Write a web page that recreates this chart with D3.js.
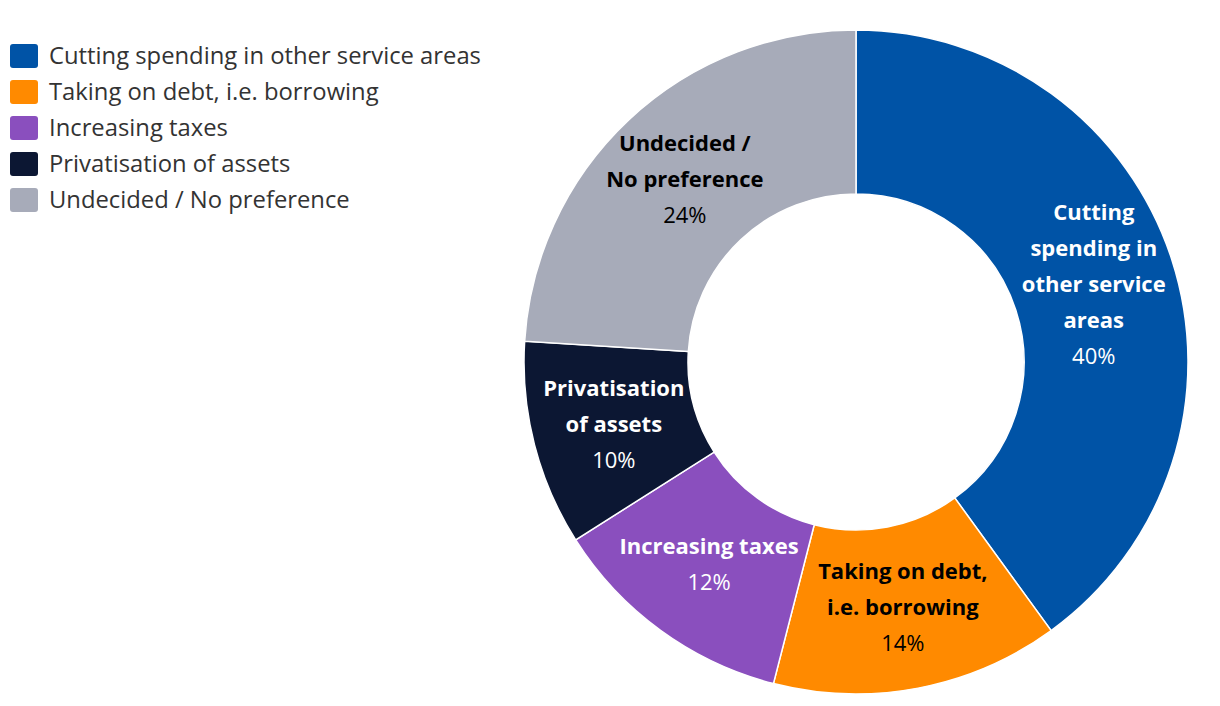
<!DOCTYPE html>
<html><head><meta charset="utf-8">
<script src="https://cdn.jsdelivr.net/npm/d3@7"></script>
<style>body{margin:0;background:#fff;} svg{display:block;}</style>
</head><body>
<svg id="chart" width="1220" height="706"></svg>
<script>
const categories = ["Cutting spending in other service areas","Taking on debt, i.e. borrowing","Increasing taxes","Privatisation of assets","Undecided / No preference"];
const values = [40, 14, 12, 10, 24];
const colors = ["#0053a6","#ff8a00","#8a4fbe","#0c1733","#a7abb9"];
const labelLines = [["Cutting","spending in","other service","areas"],["Taking on debt,","i.e. borrowing"],["Increasing taxes"],["Privatisation","of assets"],["Undecided /","No preference"]];
const labelColors = ["#fff","#000","#fff","#fff","#000"];

const svg = d3.select("#chart");
const font = "'Open Sans', sans-serif";
const cx = 856, cy = 362, outerR = 332, innerR = 168;
const pie = d3.pie().value(d => d).sort(null);
const arc = d3.arc().innerRadius(innerR).outerRadius(outerR);
const arcs = pie(values);
const g = svg.append("g").attr("transform", `translate(${cx},${cy})`);
g.selectAll("path").data(arcs).join("path")
  .attr("d", arc).attr("fill", (d,i) => colors[i])
  .attr("stroke", "#fff").attr("stroke-width", 1.5);

const lh = 36;
arcs.forEach((a, i) => {
  const [x, y] = arc.centroid(a);
  const lines = labelLines[i].concat([values[i] + "%"]);
  const n = lines.length;
  const t = g.append("text").attr("text-anchor", "middle").attr("fill", labelColors[i])
    .style("font-family", font).style("font-size", "22px");
  lines.forEach((ln, k) => {
    t.append("tspan").attr("x", x).attr("y", y + (k - (n - 1) / 2) * lh)
      .attr("dy", "0.35em")
      .style("font-weight", k < n - 1 ? 700 : 400)
      .text(ln);
  });
});

const leg = svg.append("g");
categories.forEach((c, i) => {
  const y = 56 + i * 36;
  leg.append("rect").attr("x", 10).attr("y", y - 12).attr("width", 28).attr("height", 24)
    .attr("rx", 3).attr("fill", colors[i]);
  leg.append("text").attr("x", 49).attr("y", y).attr("dy", "0.35em")
    .attr("fill", "#333").style("font-family", font).style("font-size", "23.8px").text(c);
});
</script>
</body></html>
